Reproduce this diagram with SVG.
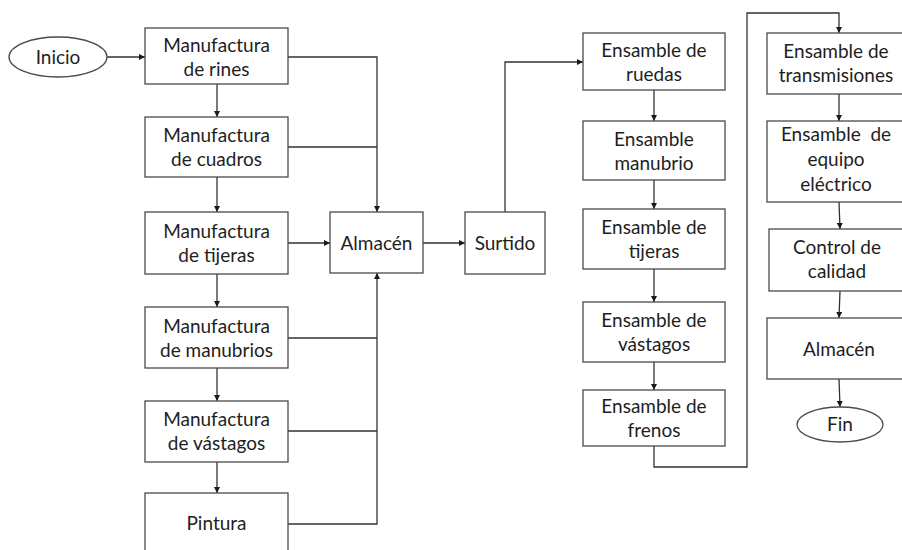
<svg xmlns="http://www.w3.org/2000/svg" width="902" height="550" viewBox="0 0 902 550">
<defs>
<marker id="ah" viewBox="0 0 10 10" refX="10" refY="5" markerWidth="6" markerHeight="6" markerUnits="userSpaceOnUse" orient="auto">
<path d="M0,0 L10,5 L0,10 z" fill="#1a1a1a"/>
</marker>
<style>
.box{fill:#ffffff;stroke:#4a4a4a;stroke-width:1.3}
.t{font-family:Lato,"Open Sans","Liberation Sans",sans-serif;font-size:19px;fill:#1e1e1e;text-anchor:middle}
.c{fill:none;stroke:#333333;stroke-width:1.3}
.ca{fill:none;stroke:#333333;stroke-width:1.3;marker-end:url(#ah)}
</style>
</defs>
<rect width="902" height="550" fill="#ffffff"/>
<g id="connectors">
<path class="ca" d="M107,57 L145,57"/>
<path class="ca" d="M217,84 L217,117"/>
<path class="ca" d="M217,177 L217,212"/>
<path class="ca" d="M217,274 L217,307"/>
<path class="ca" d="M217,368 L217,401"/>
<path class="ca" d="M217,462 L217,493"/>
<path class="ca" d="M288,57 L377,57 L377,212"/>
<path class="c" d="M288,147 L377,147"/>
<path class="ca" d="M288,243 L330,243"/>
<path class="ca" d="M288,524 L377,524 L377,273"/>
<path class="c" d="M288,338 L377,338"/>
<path class="c" d="M288,431 L377,431"/>
<path class="ca" d="M423,243 L465,243"/>
<path class="ca" d="M505,212 L505,62 L583,62"/>
<path class="ca" d="M654,90 L654,121"/>
<path class="ca" d="M654,180 L654,209"/>
<path class="ca" d="M654,269 L654,302"/>
<path class="ca" d="M654,362 L654,390"/>
<path class="ca" d="M654,446 L654,467 L747,467 L747,13 L839,13 L839,33"/>
<path class="ca" d="M839,94 L839,121"/>
<path class="ca" d="M839,202 L840,229"/>
<path class="ca" d="M840,291 L839,318"/>
<path class="ca" d="M839,379 L840,407"/>
</g>
<g id="inicio"><ellipse class="box" cx="58" cy="57" rx="49" ry="20"/><text class="t" x="58" y="64">Inicio</text></g>
<g id="m-rines"><rect class="box" x="145" y="28" width="143" height="56"/><text class="t" x="216.5" y="52">Manufactura</text><text class="t" x="216.5" y="76">de rines</text></g>
<g id="m-cuadros"><rect class="box" x="145" y="117" width="143" height="60"/><text class="t" x="216.5" y="142">Manufactura</text><text class="t" x="216.5" y="166">de cuadros</text></g>
<g id="m-tijeras"><rect class="box" x="145" y="212" width="143" height="62"/><text class="t" x="216.5" y="238">Manufactura</text><text class="t" x="216.5" y="262">de tijeras</text></g>
<g id="m-manubrios"><rect class="box" x="145" y="307" width="143" height="61"/><text class="t" x="216.5" y="333">Manufactura</text><text class="t" x="216.5" y="357">de manubrios</text></g>
<g id="m-vastagos"><rect class="box" x="145" y="401" width="143" height="61"/><text class="t" x="216.5" y="426">Manufactura</text><text class="t" x="216.5" y="450">de vástagos</text></g>
<g id="pintura"><rect class="box" x="145" y="493" width="143" height="70"/><text class="t" x="216.5" y="530">Pintura</text></g>
<g id="almacen1"><rect class="box" x="330" y="212" width="93" height="61"/><text class="t" x="376.5" y="250">Almacén</text></g>
<g id="surtido"><rect class="box" x="465" y="212" width="80" height="62"/><text class="t" x="505" y="250">Surtido</text></g>
<g id="e-ruedas"><rect class="box" x="583" y="33" width="142" height="57"/><text class="t" x="654" y="57">Ensamble de</text><text class="t" x="654" y="81">ruedas</text></g>
<g id="e-manubrio"><rect class="box" x="583" y="121" width="142" height="59"/><text class="t" x="654" y="146">Ensamble</text><text class="t" x="654" y="170">manubrio</text></g>
<g id="e-tijeras"><rect class="box" x="583" y="209" width="142" height="60"/><text class="t" x="654" y="234">Ensamble de</text><text class="t" x="654" y="258">tijeras</text></g>
<g id="e-vastagos"><rect class="box" x="583" y="302" width="142" height="60"/><text class="t" x="654" y="327">Ensamble de</text><text class="t" x="654" y="351">vástagos</text></g>
<g id="e-frenos"><rect class="box" x="583" y="390" width="142" height="56"/><text class="t" x="654" y="413">Ensamble de</text><text class="t" x="654" y="437">frenos</text></g>
<g id="e-transmisiones"><rect class="box" x="767" y="33" width="145" height="61"/><text class="t" x="836" y="58">Ensamble de</text><text class="t" x="836" y="82">transmisiones</text></g>
<g id="e-electrico"><rect class="box" x="767" y="121" width="145" height="81"/><text class="t" x="836" y="141" xml:space="preserve">Ensamble  de</text><text class="t" x="836" y="166">equipo</text><text class="t" x="836" y="191">eléctrico</text></g>
<g id="control"><rect class="box" x="769" y="229" width="143" height="62"/><text class="t" x="837" y="254">Control de</text><text class="t" x="837" y="278">calidad</text></g>
<g id="almacen2"><rect class="box" x="767" y="318" width="145" height="61"/><text class="t" x="839" y="356">Almacén</text></g>
<g id="fin"><ellipse class="box" cx="840" cy="424.5" rx="43" ry="17.5"/><text class="t" x="840" y="431">Fin</text></g>
</svg>
